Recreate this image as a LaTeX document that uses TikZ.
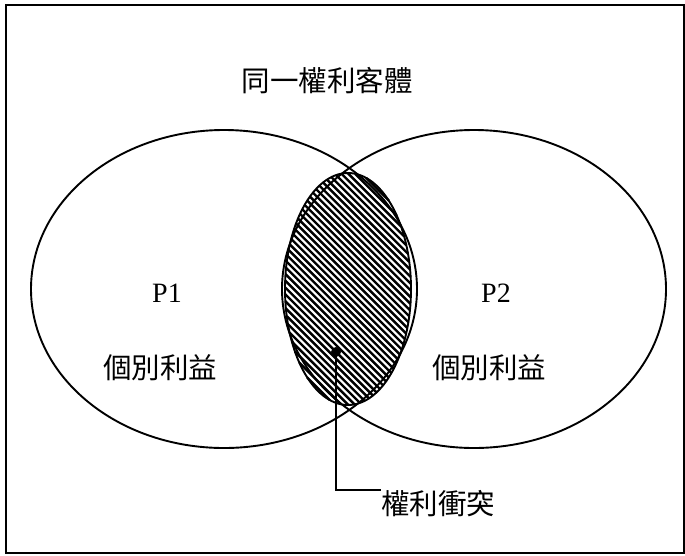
\documentclass[tikz,border=0pt]{standalone}
\usepackage{fontspec}
\setmainfont{Liberation Serif}
\newfontfamily\cjk{Noto Sans CJK TC}
\usetikzlibrary{shapes.geometric}
\tikzset{
  venn/.style={draw, ellipse, line width=1.9pt, inner sep=0pt},
  hatchline/.style={line width=2.4pt},
  cjklabel/.style={font=\cjk\fontsize{28.5}{30}\selectfont, inner sep=0pt},
  latlabel/.style={font=\fontsize{28}{30}\selectfont, inner sep=0pt},
  frame/.style={draw, line width=2.2pt},
}
\begin{document}
\begin{tikzpicture}[x=1pt,y=-1pt]
\useasboundingbox (0,0) rectangle (685,555);
\draw[frame] (6,5) rectangle (684,553);
\node[venn, minimum width=386pt, minimum height=318pt] (c1) at (224,289) {};
\node[venn, minimum width=384pt, minimum height=318pt] (c2) at (474,289) {};
% hatching of the overlap ellipse (a=63, b=116), lines X - Y = k
\foreach \i in {-19,...,19} {
  \pgfmathsetmacro{\q}{\i*6.8/63}
  \pgfmathsetmacro{\sq}{sqrt(max(4.39027-\q*\q,0))}
  \pgfmathsetmacro{\sa}{(-1.84127*\q-\sq)/4.39027}
  \pgfmathsetmacro{\sb}{(-1.84127*\q+\sq)/4.39027}
  \draw[hatchline] ({348+116*\sa+\i*6.8},{289+116*\sa}) -- ({348+116*\sb+\i*6.8},{289+116*\sb});
}
\node[venn, minimum width=126pt, minimum height=232pt] (ov) at (348,289) {};
\node[cjklabel] (title) at (327,81) {同一權利客體};
\node[latlabel] (p1) at (167,293) {P1};
\node[latlabel] (p2) at (496,293) {P2};
\node[cjklabel] (g1) at (160,368) {個別利益};
\node[cjklabel] (g2) at (489,368) {個別利益};
\node[circle, fill=black, inner sep=0pt, minimum size=10pt] (dot) at (336,352) {};
\node[cjklabel, anchor=north west] (conf) at (381,490) {權利衝突};
\draw[line width=1.9pt] (dot.center) |- (conf.north west);
\end{tikzpicture}
\end{document}
